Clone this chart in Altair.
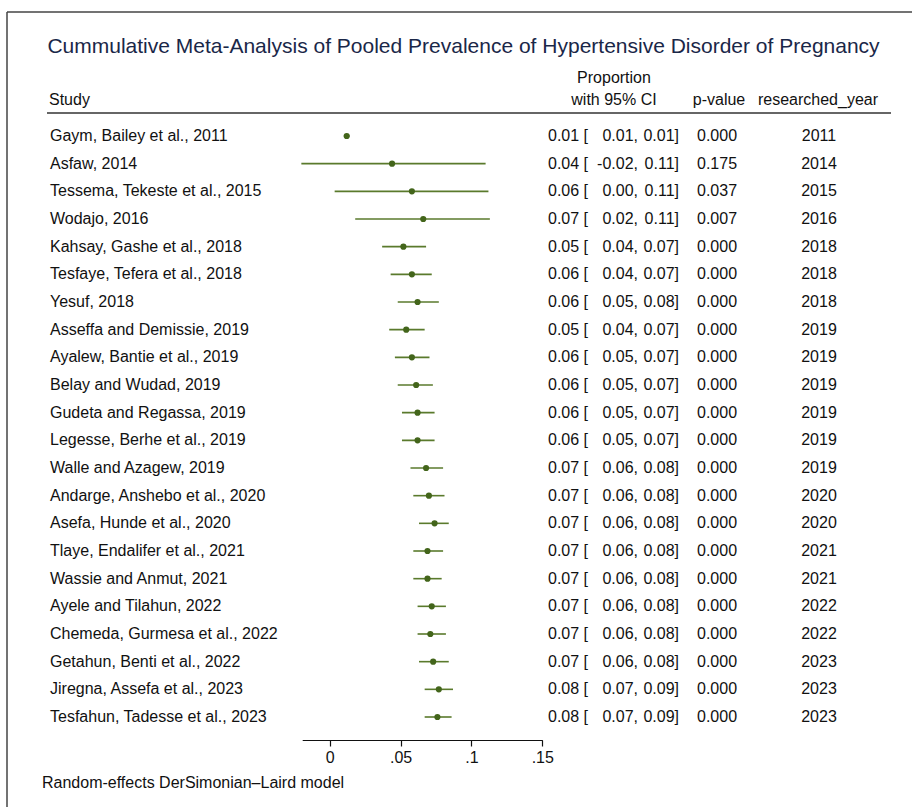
import altair as alt
import pandas as pd

# Cumulative meta-analysis: one row per study added, in order of publication
studies = [
    "Gaym, Bailey et al., 2011",
    "Asfaw, 2014",
    "Tessema, Tekeste et al., 2015",
    "Wodajo, 2016",
    "Kahsay, Gashe et al., 2018",
    "Tesfaye, Tefera et al., 2018",
    "Yesuf, 2018",
    "Asseffa and Demissie, 2019",
    "Ayalew, Bantie et al., 2019",
    "Belay and Wudad, 2019",
    "Gudeta and Regassa, 2019",
    "Legesse, Berhe et al., 2019",
    "Walle and Azagew, 2019",
    "Andarge, Anshebo et al., 2020",
    "Asefa, Hunde et al., 2020",
    "Tlaye, Endalifer et al., 2021",
    "Wassie and Anmut, 2021",
    "Ayele and Tilahun, 2022",
    "Chemeda, Gurmesa et al., 2022",
    "Getahun, Benti et al., 2022",
    "Jiregna, Assefa et al., 2023",
    "Tesfahun, Tadesse et al., 2023",
]
estimates = [0.012, 0.044, 0.058, 0.066, 0.052, 0.058, 0.062, 0.054, 0.058, 0.061, 0.062,
             0.062, 0.068, 0.070, 0.074, 0.069, 0.069, 0.072, 0.071, 0.073, 0.077, 0.076]
lower = [0.010, -0.020, 0.0035, 0.018, 0.037, 0.043, 0.048, 0.042, 0.046, 0.048, 0.051,
         0.051, 0.057, 0.059, 0.063, 0.059, 0.059, 0.062, 0.062, 0.063, 0.067, 0.067]
upper = [0.014, 0.110, 0.112, 0.113, 0.068, 0.072, 0.077, 0.067, 0.0704, 0.0728, 0.074,
         0.074, 0.080, 0.081, 0.084, 0.080, 0.079, 0.082, 0.082, 0.084, 0.087, 0.086]
p_values = [0.000, 0.175, 0.037, 0.007] + [0.000] * 18
years = [2011, 2014, 2015, 2016, 2018, 2018, 2018, 2019, 2019, 2019, 2019,
         2019, 2019, 2020, 2020, 2021, 2021, 2022, 2022, 2023, 2023, 2023]
x_ticks = [0, 0.05, 0.1, 0.15]

df = pd.DataFrame({
    "study": studies,
    "est": estimates,
    "lo": lower,
    "hi": upper,
    "p": p_values,
    "year": years,
})
df["row"] = range(len(df))
df["est_txt"] = [f"{v:.2f} [" for v in df["est"]]
df["lo_txt"] = [f"{v:.2f}," for v in df["lo"]]
df["hi_txt"] = [f"{v:.2f}]" for v in df["hi"]]
df["p_txt"] = [f"{v:.3f}" for v in df["p"]]
df["year_txt"] = [str(v) for v in df["year"]]

FONT = "Liberation Sans"
TEXT = "#111111"
LINE_GREEN = "#5a7a2c"
DOT_GREEN = "#43651b"

x_scale = alt.Scale(domain=[-0.0194, 0.15], range=[302.2, 542.3], nice=False, zero=False)
y_scale = alt.Scale(domain=[0, len(studies) - 1], range=[136, 717], nice=False, zero=False)

base = alt.Chart(df)

ci = base.mark_rule(color=LINE_GREEN, strokeWidth=1.6).encode(
    x=alt.X("lo:Q", scale=x_scale, axis=alt.Axis(
        values=x_ticks, title=None, grid=False,
        labelExpr="datum.value == 0 ? '0' : replace(format(datum.value, '.2~f'), '0.', '.')",
        labelFont=FONT, labelFontSize=16, labelColor=TEXT, labelPadding=3,
        labelFlush=False, labelOverlap=False,
        domainColor="#111111", domainWidth=1.2, tickColor="#111111", tickWidth=1.2, tickSize=6,
    )),
    x2="hi:Q",
    y=alt.Y("row:Q", scale=y_scale, axis=None),
)

dots = base.mark_circle(color=DOT_GREEN, opacity=1, size=38).encode(
    x=alt.X("est:Q", scale=x_scale),
    y=alt.Y("row:Q", scale=y_scale),
)


def column(field, x, align):
    return base.mark_text(font=FONT, fontSize=16, color=TEXT, align=align, baseline="middle").encode(
        text=f"{field}:N",
        x=alt.value(x),
        y=alt.Y("row:Q", scale=y_scale),
    )


def label(text, x, y, align="left", size=16, color=TEXT):
    return alt.Chart(pd.DataFrame({"t": [text]})).mark_text(
        font=FONT, fontSize=size, color=color, align=align, baseline="middle"
    ).encode(text="t:N", x=alt.value(x), y=alt.value(y))


def hline(x1, x2, y, color, width):
    return alt.Chart(pd.DataFrame({"a": [0]})).mark_rule(color=color, strokeWidth=width).encode(
        x=alt.value(x1), x2=alt.value(x2), y=alt.value(y)
    )


def vline(x, y1, y2, color, width):
    return alt.Chart(pd.DataFrame({"a": [0]})).mark_rule(color=color, strokeWidth=width).encode(
        x=alt.value(x), y=alt.value(y1), y2=alt.value(y2)
    )


layers = [
    vline(7, 12, 807, "#444444", 1.5),
    hline(7, 912, 12, "#444444", 1.5),
    label("Cummulative Meta-Analysis of Pooled Prevalence of Hypertensive Disorder of Pregnancy",
          463.5, 47, align="center", size=21, color="#1a2748"),
    label("Study", 49, 100),
    label("Proportion", 614, 78, align="center"),
    label("with 95% CI", 614, 100, align="center"),
    label("p-value", 719, 100, align="center"),
    label("researched_year", 818, 100, align="center"),
    hline(47, 891, 113, "#333333", 1.5),
    ci,
    dots,
    column("study", 50, "left"),
    column("est_txt", 548, "left"),
    column("lo_txt", 638, "right"),
    column("hi_txt", 679, "right"),
    column("p_txt", 717, "center"),
    column("year_txt", 819, "center"),
    label("Random-effects DerSimonian\u2013Laird model", 42, 783),
]

chart = alt.layer(*layers).properties(
    width=912,
    height=740,
    autosize=alt.AutoSizeParams(type="none"),
    padding={"left": 0, "top": 0, "right": 0, "bottom": 67},
    background="white",
).configure_view(stroke=None)

chart.save("out.html", embed_options={"renderer": "svg", "actions": False})
